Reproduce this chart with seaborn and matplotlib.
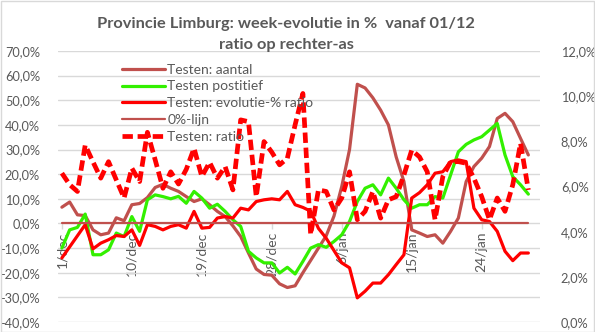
import matplotlib
matplotlib.use("Agg")
import matplotlib.pyplot as plt
from matplotlib.patches import Rectangle
from matplotlib.ticker import FuncFormatter, MultipleLocator
import numpy as np
import pandas as pd
import seaborn as sns

# ---- data: one value per day, 1 Dec .. 30 Jan ----
days = pd.date_range("2020-12-01", "2021-01-30", freq="D")

testen_aantal = [
    6.6, 8.7, 3.5, 3.2, -2.6, -4.6, -3.9, 2.3, 1.1, 7.6,
    8.1, 10.5, 14.6, 15.9, 14.3, 13.0, 10.9, 8.9, 10.0, 7.6,
    4.9, 2.8, -1.0, -5.3, -12.0, -18.5, -20.7, -21.0, -24.5, -26.0,
    -25.3, -20.0, -15.0, -10.0, -5.0, 3.0, 15.0, 30.0, 56.5, 55.0,
    51.0, 46.0, 40.0, 27.0, 17.0, -2.6, -3.9, -5.3, -4.6, -8.0,
    -3.2, 2.2, 17.0, 23.1, 26.5, 31.2, 42.6, 44.7, 41.3, 34.5,
    27.8,
]

testen_positief = [
    -10.0, -2.6, -1.6, 3.8, -12.7, -12.7, -10.7, -3.9, -5.3, 2.8,
    -3.2, 9.6, 11.6, 10.9, 10.0, 11.0, 8.2, 13.0, 10.3, 6.2,
    7.8, 4.9, 1.5, -1.2, -11.3, -14.0, -16.0, -16.0, -20.1, -17.8,
    -20.5, -15.4, -10.0, -8.6, -9.7, -7.3, -4.6, 0.8, 8.9, 14.3,
    15.7, 11.6, 18.4, 14.3, 9.6, 6.2, 7.6, 7.6, 10.9, 10.3,
    19.7, 29.1, 32.1, 33.9, 35.2, 37.9, 40.6, 27.8, 19.0, 15.7,
    11.9,
]

evolutie_ratio = [
    -14.0, -9.5, -5.0, -0.5, -10.3, -8.0, -6.6, -4.9, -5.3, -2.6,
    -8.9, -0.5, -1.2, -2.6, -1.2, -0.5, -1.9, 4.9, -1.9, -1.6,
    2.2, 2.8, 2.2, 6.2, 5.5, 8.9, 9.6, 10.0, 9.6, 13.0,
    7.6, 6.5, 5.0, -2.0, -6.0, -11.0, -16.0, -18.0, -30.2, -27.5,
    -24.2, -24.2, -20.8, -16.7, -12.7, 10.3, 12.5, 15.7, 20.4, 21.0,
    25.1, 25.8, 25.1, 6.2, 1.5, 0.8, -3.2, -11.3, -15.1, -12.0,
    -12.0,
]

nul_lijn = [0.0] * len(days)

# positive-test ratio, in % (right axis)
testen_ratio = [
    6.59, 6.08, 5.78, 7.83, 7.09, 6.37, 7.10, 6.29, 5.49, 6.81,
    6.22, 8.40, 7.18, 5.92, 6.65, 6.11, 6.76, 7.69, 6.44, 7.07,
    6.37, 6.88, 5.85, 8.95, 8.87, 5.55, 7.99, 7.52, 6.96, 7.25,
    8.73, 10.12, 3.87, 5.85, 5.78, 4.96, 5.49, 6.65, 4.53, 4.90,
    5.78, 4.60, 5.41, 5.55, 6.51, 7.61, 7.31, 6.65, 4.53, 6.44,
    7.10, 7.10, 7.03, 6.37, 5.55, 4.53, 5.49, 4.90, 6.08, 7.91,
    5.85,
]

tick_days = [0, 9, 18, 27, 36, 45, 54]
tick_labels = ["1/dec", "10/dec", "19/dec", "28/dec", "6/jan", "15/jan", "24/jan"]

df = pd.DataFrame({
    "dag": np.arange(len(days)),
    "Testen: aantal": testen_aantal,
    "Testen postitief": testen_positief,
    "Testen: evolutie-% ratio": evolutie_ratio,
    "0%-lijn": nul_lijn,
    "Testen: ratio": testen_ratio,
})

# ---- styling ----
sns.set_style("white")
plt.rcParams["font.family"] = ["Lato", "DejaVu Sans"]
TXT = "#595959"
GRID = "#D9D9D9"
BROWN = "#C0504D"
GREEN = "#33F000"
RED = "#FF0000"

fig = plt.figure(figsize=(5.95, 3.32), dpi=100)
ax = fig.add_axes([58 / 595, 1 - 322 / 332, (540 - 58) / 595, (322 - 51) / 332])
ax2 = ax.twinx()

# primary axis series
sns.lineplot(data=df, x="dag", y="Testen: aantal", ax=ax, color=BROWN, lw=2.3,
             label="Testen: aantal", legend=False)
sns.lineplot(data=df, x="dag", y="Testen postitief", ax=ax, color=GREEN, lw=2.3,
             label="Testen postitief", legend=False)
sns.lineplot(data=df, x="dag", y="Testen: evolutie-% ratio", ax=ax, color=RED, lw=2.3,
             label="Testen: evolutie-% ratio", legend=False)
sns.lineplot(data=df, x="dag", y="0%-lijn", ax=ax, color=BROWN, lw=1.6,
             label="0%-lijn", legend=False)

# secondary axis series
sns.lineplot(data=df, x="dag", y="Testen: ratio", ax=ax2, color=RED, lw=3.4,
             label="Testen: ratio", legend=False)
ax2.lines[0].set_dashes((2.2, 1.0))
ax2.lines[0].set_dash_capstyle("butt")

# axes limits and ticks
ax.set_xlim(-0.5, len(days) + 0.5)
ax.set_ylim(-40, 70)
ax2.set_ylim(0, 12)
ax.yaxis.set_major_locator(MultipleLocator(10))
ax2.yaxis.set_major_locator(MultipleLocator(2))
pct = FuncFormatter(lambda v, _: f"{v:.1f}%".replace(".", ","))
ax.yaxis.set_major_formatter(pct)
ax2.yaxis.set_major_formatter(pct)

ax.grid(axis="y", color=GRID, lw=1.0)
ax.set_axisbelow(True)
ax.set_xlabel("")
ax.set_ylabel("")
ax2.set_ylabel("")

for a in (ax, ax2):
    for s in a.spines.values():
        s.set_visible(False)

# category axis crosses at 0 %
ax.spines["bottom"].set_position(("data", 0))
ax.set_xticks(tick_days)
ax.set_xticklabels(tick_labels, rotation=90, ha="center", va="top")
ax.tick_params(axis="x", bottom=True, length=4, width=1, color=GRID,
               labelcolor=TXT, labelsize=10, pad=2)
ax.tick_params(axis="y", length=0, labelcolor=TXT, labelsize=9.2, pad=13)
ax2.tick_params(axis="y", length=0, labelcolor=TXT, labelsize=9.2, pad=15)
ax2.tick_params(axis="x", bottom=False, labelbottom=False)

# legend (no frame)
handles = ax.get_lines()[:4] + [ax2.get_lines()[0]]
labels = [h.get_label() for h in handles]
leg = ax2.legend(handles, labels, loc="upper left",
                 bbox_to_anchor=((116 - 58) / 482, (322 - 58) / 271),
                 frameon=False, fontsize=10, handlelength=3.1,
                 handletextpad=0.2, labelspacing=0.35, borderaxespad=0)
for t in leg.get_texts():
    t.set_color(TXT)

# title
fig.text(286 / 595, 1 - 24 / 332, "Provincie Limburg: week-evolutie in %  vanaf 01/12",
         ha="center", va="center", fontsize=11.8, fontweight="bold", color=TXT)
fig.text(286 / 595, 1 - 45 / 332, "ratio op rechter-as",
         ha="center", va="center", fontsize=11.8, fontweight="bold", color=TXT)

# chart border
fig.patches.append(Rectangle((0.5 / 595, 0.5 / 332), 1 - 1.5 / 595, 1 - 1.5 / 332,
                             transform=fig.transFigure, fill=False,
                             edgecolor=GRID, lw=1.0))

fig.savefig("out.png", dpi=100)
